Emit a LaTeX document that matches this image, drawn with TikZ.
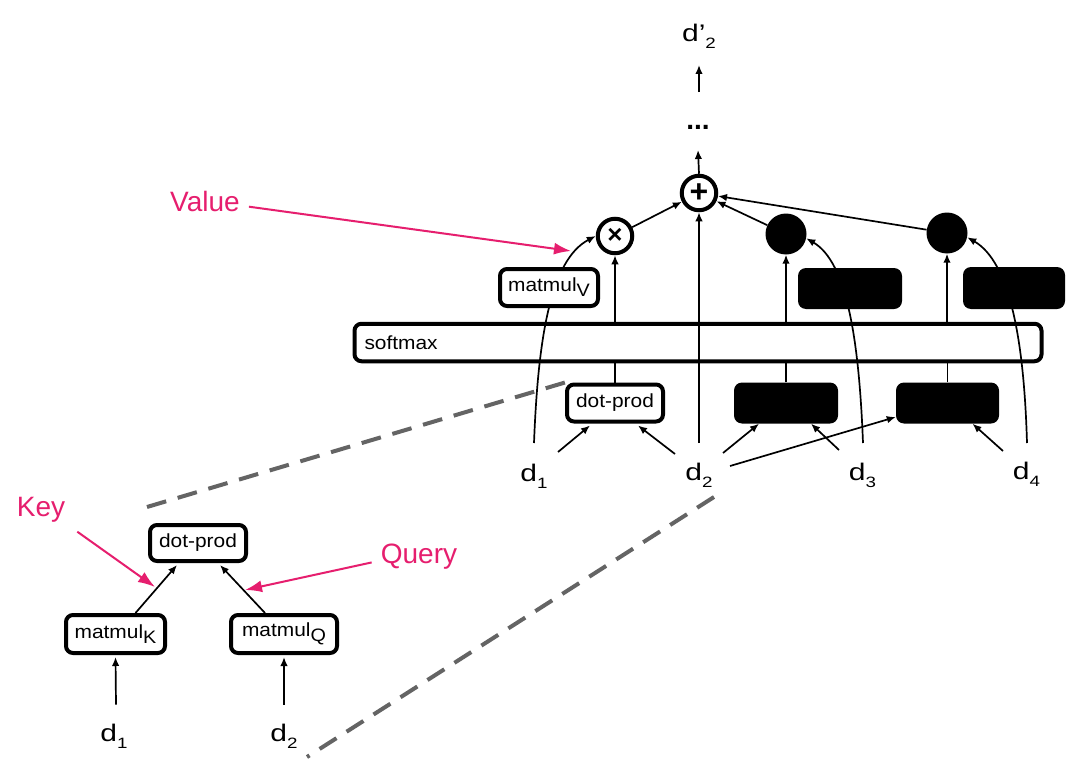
\documentclass[tikz,border=0pt]{standalone}
\usepackage{fontspec}
\setmainfont{Liberation Sans}
\newfontfamily\dfont[FakeStretch=1.25]{Liberation Sans}
\newfontfamily\bfont[FakeStretch=1.1]{Liberation Sans}
\usetikzlibrary{arrows.meta}
\pgfdeclarelayer{bg}
\pgfsetlayers{bg,main}
\definecolor{pinkc}{RGB}{230,30,110}
\definecolor{dashc}{RGB}{100,100,100}
\newcommand{\dl}[1]{{\dfont\fontsize{24}{24}\selectfont d\raisebox{-7pt}{\fontsize{15}{15}\selectfont #1}}}
\newcommand{\bsub}[1]{\raisebox{-5pt}{\fontsize{18}{18}\selectfont #1}}
\begin{document}
\begin{tikzpicture}[x=1pt,y=-1pt,
 wbox/.style={draw, line width=4pt, rounded corners=7pt, fill=white, minimum height=37pt, inner sep=0pt, font=\bfont\fontsize{19}{19}\selectfont},
 bbox/.style={fill=black, rounded corners=8pt, minimum height=41pt, inner sep=0pt},
 opc/.style={circle, draw, line width=4pt, fill=white, minimum size=34.5pt, inner sep=0pt},
 bc/.style={circle, fill=black, minimum size=41pt, inner sep=0pt},
 arr/.style={-{Latex[length=9pt,width=7.5pt]}, line width=1.7pt},
 ln/.style={line width=1.7pt},
 parr/.style={draw=pinkc, line width=2pt, -{Latex[length=17pt,width=12pt]}},
 plab/.style={text=pinkc, font=\fontsize{28}{28}\selectfont, inner sep=0pt},
 dlab/.style={inner sep=0pt, anchor=base},
 gdash/.style={draw=dashc, line width=4pt, dash pattern=on 20pt off 12pt},
]
\useasboundingbox (0,0) rectangle (1087,768);

% main part
\node[wbox, minimum width=96pt] (dp1) at (615,403) {dot-prod};
\node[bbox, minimum width=104pt] (bb3l) at (786,403) {};
\node[bbox, minimum width=103pt] (bb4l) at (947.5,403) {};
\node[wbox, fill=none, minimum width=687pt, minimum height=37.5pt, text width=667pt, align=left] (sm) at (698,342.5) {softmax};
\node[wbox, minimum width=98pt] (mV) at (549,287.5) {matmul\bsub{V}};
\node[bbox, minimum width=104pt] (bb3u) at (850,288.5) {};
\node[bbox, minimum width=102pt, minimum height=42pt] (bb4u) at (1014,288) {};
\node[opc] (times) at (615,236) {\fontsize{26}{26}\selectfont\textbf{×}};
\node[opc] (plus) at (699,193) {\fontsize{32}{32}\selectfont\textbf{+}};
\node[bc] (c3) at (786,234) {};
\node[bc] (c4) at (947,233) {};
\node[inner sep=0pt, font=\fontsize{28}{28}\selectfont\bfseries] (dots) at (698,127) {...};
\node[dlab] (d2p) at (699,41.7) {\dfont\fontsize{24}{24}\selectfont d’\raisebox{-7pt}{\fontsize{15}{15}\selectfont 2}};

\node[dlab] (d1) at (534,481) {\dl{1}};
\node[dlab] (d2) at (699,480) {\dl{2}};
\node[dlab] (d3) at (862.5,480) {\dl{3}};
\node[dlab] (d4) at (1026.5,479) {\dl{4}};

% inset
\node[wbox, minimum width=96pt, minimum height=36pt] (dp2) at (198,543) {dot-prod};
\node[wbox, minimum width=99pt, minimum height=38pt] (mK) at (115.5,634) {matmul\bsub{K}};
\node[wbox, minimum width=106pt, minimum height=38pt] (mQ) at (284,634) {matmul\bsub{Q}};
\node[dlab] (d1b) at (114,741.7) {\dl{1}};
\node[dlab] (d2b) at (284,741.7) {\dl{2}};

% pink labels
\node[plab, anchor=base] (value) at (205,211.7) {Value};
\node[plab, anchor=base] (key) at (41,516.7) {Key};
\node[plab, anchor=base] (query) at (419,563.3) {Query};
\coordinate (vtip) at (571,251);
\coordinate (ktip) at (155,587);
\coordinate (qtip) at (245,590);
\draw[parr] ([shift={(9,5)}]value.east) -- (vtip);
\draw[parr] ([shift={(12,9)}]key.south east) -- (ktip);
\draw[parr] ([shift={(-9,6)}]query.west) -- (qtip);

\coordinate (za) at (147,507);
\coordinate (zb) at (714,497);
\coordinate (zc) at (307,757);

\begin{pgfonlayer}{bg}
\fill[white] (0,0) rectangle (1087,768);
\draw[gdash] (za) -- (dp1.north west);
\draw[gdash] (zb) -- (zc);
% value curves
\draw[arr] ([shift={(0,-38)}]d1.base) .. controls (538,340) and (550,260) .. (times.180);
\draw[arr] ([shift={(0.5,-37)}]d3.base) .. controls (859,340) and (847,262) .. (c3.-12);
\draw[arr] ([shift={(0.5,-36)}]d4.base) .. controls (1024,340) and (1010,262) .. (c4.-12);
% verticals
\draw[arr] ([shift={(0,-37)}]d2.base) -- (plus.south);
\draw[ln] (dp1.north) -- (dp1.north |- sm.south);
\draw[arr] (times.south |- sm.north) -- (times.south);
\draw[ln] (bb3l.north) -- (bb3l.north |- sm.south);
\draw[arr] (c3.south |- sm.north) -- (c3.south);
\draw[ln] (bb4l.north) -- (bb4l.north |- sm.south);
\draw[arr] (c4.south |- sm.north) -- (c4.south);
% into plus
\draw[arr] (times) -- (plus);
\draw[arr] (c3) -- (plus);
\draw[arr] (c4) -- (plus);
\draw[arr] (plus.north) -- ([shift={(0,23)}]dots.center);
\draw[arr] ([shift={(1,-35)}]dots.center) -- ([shift={(0,23.3)}]d2p.base);
% into score boxes
\draw[arr] ([shift={(24,-29)}]d1.base) -- ([shift={(-25,2)}]dp1.south);
\draw[arr] ([shift={(-24,-26)}]d2.base) -- ([shift={(23,2)}]dp1.south);
\draw[arr] ([shift={(24,-27)}]d2.base) -- ([shift={(-27,0)}]bb3l.south);
\draw[arr] ([shift={(-23.5,-30)}]d3.base) -- ([shift={(25,0)}]bb3l.south);
\draw[arr] ([shift={(31,-14)}]d2.base) -- ([shift={(0,14)}]bb4l.west);
\draw[arr] ([shift={(-23.5,-28)}]d4.base) -- ([shift={(25,0)}]bb4l.south);
% inset arrows
\draw[arr] ([shift={(2,-37)}]d1b.base) -- ([shift={(0,2)}]mK.south);
\draw[arr] ([shift={(0,-37)}]d2b.base) -- ([shift={(0,2)}]mQ.south);
\draw[arr] ([shift={(20,0)}]mK.north) -- ([shift={(-21,2)}]dp2.south);
\draw[arr] ([shift={(-19,0)}]mQ.north) -- ([shift={(22,2)}]dp2.south);
\end{pgfonlayer}
\end{tikzpicture}
\end{document}
